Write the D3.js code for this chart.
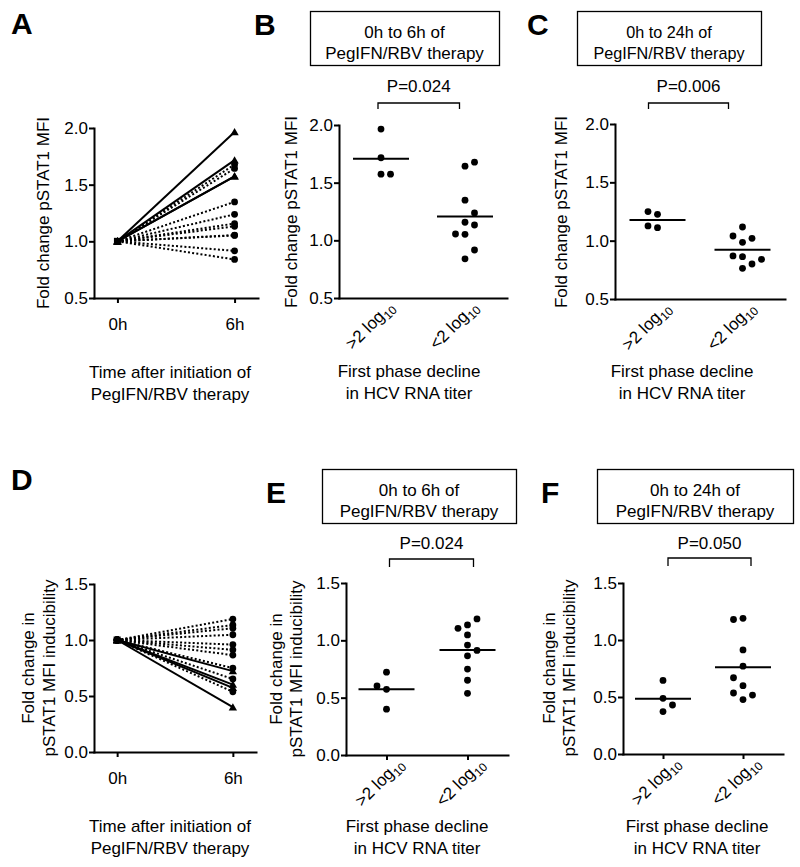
<!DOCTYPE html>
<html><head><meta charset="utf-8">
<script src="https://cdn.jsdelivr.net/npm/d3@7"></script>
<style>
html,body{margin:0;padding:0;background:#fff;}
svg{display:block;}
</style></head><body>
<script>
// ---------------- DATA ----------------
const timeLabels = ["0h", "6h"];
const groupLabels = [">2 log", "<2 log"];           // subscript "10" added when drawn
const pstatTicks = [0.5, 1.0, 1.5, 2.0];
const inducTicks = [0.0, 0.5, 1.0, 1.5];
const baseline0h = 1.0;
// fold change pSTAT1 MFI, 0h->6h (panels A, B)
const fold6hGt2 = [1.965, 1.716, 1.574, 1.574];
const fold6hLt2 = [1.643, 1.678, 1.348, 1.157, 1.238, 1.133, 1.052, 1.055, 0.84, 0.916];
// fold change pSTAT1 MFI, 0h->24h (panel C)
const fold24hGt2 = [1.226, 1.249, 1.111, 1.126];
const fold24hLt2 = [1.117, 0.986, 1.02, 1.04, 0.863, 0.80, 0.869, 0.763, 0.84];
// fold change in inducibility, 0h->6h (panels D, E)
const induc6hGt2 = [0.722, 0.573, 0.602, 0.40];
const induc6hLt2 = [1.134, 1.187, 1.105, 1.047, 0.959, 0.912, 0.865, 0.749, 0.652, 0.538];
// fold change in inducibility, 0h->24h (panel F)
const induc24hGt2 = [0.645, 0.488, 0.43, 0.372];
const induc24hLt2 = [1.19, 1.18, 0.913, 0.77, 0.599, 0.669, 0.477, 0.535, 0.517];
const pValues = ["P=0.024", "P=0.006", "P=0.024", "P=0.050"];
const boxTitles6 = ["0h to 6h of", "PegIFN/RBV therapy"];
const boxTitles24 = ["0h to 24h of", "PegIFN/RBV therapy"];
const yTitleTop = ["Fold change pSTAT1 MFI"];
const yTitleBottom = ["Fold change in", "pSTAT1 MFI inducibility"];
const xTitleTime = ["Time after initiation of", "PegIFN/RBV therapy"];
const xTitleGroup = ["First phase decline", "in HCV RNA titer"];
const panelLetters = ["A", "B", "C", "D", "E", "F"];

// ---------------- DRAWING ----------------
const FF = '"Liberation Sans", Arial, Helvetica, sans-serif';
const FS = 17;
const svg = d3.select("body").append("svg")
  .attr("width", 800).attr("height", 867)
  .style("font-family", FF).style("background", "#fff");
svg.append("rect").attr("width", 800).attr("height", 867).attr("fill", "#fff");

function styleAxis(ax) {
  ax.attr("font-family", FF).attr("font-size", FS);
  ax.select(".domain").attr("stroke", "#000").attr("stroke-width", 2).attr("stroke-linecap", "square");
  ax.selectAll(".tick line").attr("stroke", "#000").attr("stroke-width", 2);
  ax.selectAll(".tick text").attr("fill", "#000");
}

function yAxis(y, ticks, x) {
  const ax = svg.append("g").attr("transform", `translate(${x},0)`)
    .call(d3.axisLeft(y).tickValues(ticks).tickFormat(d3.format(".1f"))
      .tickSize(5).tickSizeOuter(0).tickPadding(1));
  styleAxis(ax);
}

function xAxis(x, yPos, tickSize, showLabels) {
  const ax = svg.append("g").attr("transform", `translate(0,${yPos})`)
    .call(d3.axisBottom(x).tickSize(tickSize).tickSizeOuter(0).tickPadding(15)
      .tickFormat(showLabels ? (d => d) : () => ""));
  styleAxis(ax);
  if (tickSize === 0) ax.selectAll(".tick line").remove();
}

function yTitle(lines, x, cy) {
  const t = svg.append("text").attr("transform", `translate(${x},${cy}) rotate(-90)`)
    .attr("text-anchor", "middle").attr("font-size", FS).attr("fill", "#000");
  lines.forEach((l, i) => t.append("tspan").attr("x", 0).attr("dy", i === 0 ? 0 : 20.5).text(l));
}

function xTitle(lines, cx, y) {
  const t = svg.append("text").attr("text-anchor", "middle").attr("font-size", FS).attr("fill", "#000");
  lines.forEach((l, i) => t.append("tspan").attr("x", cx).attr("y", y + i * 21.5).text(l));
}

function letter(s, x, y) {
  svg.append("text").attr("x", x).attr("y", y).attr("font-size", 30).attr("font-weight", "bold")
    .attr("fill", "#000").text(s);
}

function titleBox(lines, x, y, w, h, fs) {
  svg.append("rect").attr("x", x + 0.5).attr("y", y + 0.5).attr("width", w).attr("height", h)
    .attr("fill", "none").attr("stroke", "#000").attr("stroke-width", 1.3);
  const t = svg.append("text").attr("text-anchor", "middle").attr("font-size", fs).attr("fill", "#000");
  lines.forEach((l, i) => t.append("tspan").attr("x", x + w / 2).attr("y", y + 27 + i * 21).text(l));
}

function pBracket(p, x1, x2, yTop, leg, textY) {
  svg.append("path").attr("d", `M${x1},${yTop + leg}V${yTop}H${x2}V${yTop + leg}`)
    .attr("fill", "none").attr("stroke", "#000").attr("stroke-width", 1.3);
  svg.append("text").attr("x", (x1 + x2) / 2).attr("y", textY).attr("text-anchor", "middle")
    .attr("font-size", FS).attr("fill", "#000").text(p);
}

const triangle = d3.symbol().type(d3.symbolTriangle).size(30);

// Line panel (A, D)
function linePanel(cfg, solidVals, dottedVals) {
  const y = d3.scaleLinear().domain(cfg.domain).range([cfg.yBot, cfg.yTop]);
  const x = d3.scalePoint().domain(timeLabels).range([cfg.axisX, cfg.axisEnd]).padding(0.2);
  const line = d3.line().x(d => x(d[0])).y(d => y(d[1]));
  const pairs = v => [[timeLabels[0], baseline0h], [timeLabels[1], v]];
  const g = svg.append("g");
  g.selectAll(".dl").data(dottedVals).join("path").attr("d", v => line(pairs(v)))
    .attr("fill", "none").attr("stroke", "#000").attr("stroke-width", 2).attr("stroke-dasharray", "2,2.2");
  g.selectAll(".sl").data(solidVals).join("path").attr("d", v => line(pairs(v)))
    .attr("fill", "none").attr("stroke", "#000").attr("stroke-width", 2);
  g.selectAll(".dc").data(dottedVals).join("circle")
    .attr("cx", x(timeLabels[1])).attr("cy", v => y(v)).attr("r", 3.4).attr("fill", "#000");
  g.selectAll(".st").data(solidVals).join("path").attr("d", triangle)
    .attr("transform", v => `translate(${x(timeLabels[1])},${y(v) + 0.8})`).attr("fill", "#000");
  g.selectAll(".dc0").data(dottedVals).join("circle")
    .attr("cx", x(timeLabels[0])).attr("cy", y(baseline0h)).attr("r", 3.4).attr("fill", "#000");
  g.selectAll(".st0").data(solidVals).join("path").attr("d", triangle)
    .attr("transform", `translate(${x(timeLabels[0])},${y(baseline0h) + 0.8})`).attr("fill", "#000");
  g.append("rect").attr("x", x(timeLabels[0]) - 3.5).attr("y", y(baseline0h) - 3.5)
    .attr("width", 7).attr("height", 7).attr("fill", "#000");
  yAxis(y, cfg.ticks, cfg.axisX);
  xAxis(x, cfg.yBot, 5, true);
}

// simple swarm: place in data order, centre slot first, then preferred side
function swarm(vals, y, side) {
  const T = 9.7, placed = [];
  const order = [0, side, -side, 2 * side, -2 * side, 3 * side, -3 * side];
  return vals.map(v => {
    const py = y(v);
    for (const s of order) {
      if (!placed.some(p => p.s === s && Math.abs(p.py - py) < T)) {
        placed.push({ s, py });
        return { v, s };
      }
    }
    return { v, s: 0 };
  });
}

// Scatter panel (B, C, E, F)
function scatterPanel(cfg, groups) {
  const y = d3.scaleLinear().domain(cfg.domain).range([cfg.yBot, cfg.yTop]);
  const x = d3.scalePoint().domain(groupLabels).range([cfg.axisX, cfg.axisEnd]).padding(0.5);
  const slotW = 9.5, halfMean = 28;
  groups.forEach((vals, gi) => {
    const cx = x(groupLabels[gi]);
    const pts = swarm(vals, y, cfg.sides[gi]);
    svg.append("g").selectAll("circle").data(pts).join("circle")
      .attr("cx", d => cx + d.s * slotW).attr("cy", d => y(d.v)).attr("r", 3.4).attr("fill", "#000");
    const m = d3.mean(vals);
    svg.append("line").attr("x1", cx - halfMean).attr("x2", cx + halfMean)
      .attr("y1", y(m)).attr("y2", y(m)).attr("stroke", "#000").attr("stroke-width", 2);
  });
  yAxis(y, cfg.ticks, cfg.axisX);
  xAxis(x, cfg.yBot, cfg.xTicks ? 5 : 0, false);
  groupLabels.forEach(c => {
    const t = svg.append("text")
      .attr("transform", `translate(${x(c) + cfg.labDx},${cfg.yBot + cfg.labDy}) rotate(-45)`)
      .attr("text-anchor", "end").attr("font-size", FS).attr("fill", "#000");
    t.append("tspan").text(c);
    t.append("tspan").attr("dy", 4).attr("font-size", 12).text("10");
  });
  const b = cfg.bracket;
  pBracket(cfg.p, x(groupLabels[0]) + b.d1, x(groupLabels[1]) + b.d2, b.y, b.leg, b.ty);
  return x;
}

// ---- Panel A
linePanel({ domain: [0.5, 2.0], ticks: pstatTicks, axisX: 94, axisEnd: 258, yTop: 128, yBot: 298 },
  fold6hGt2, fold6hLt2);
yTitle(yTitleTop, 49, 213);
xTitle(xTitleTime, 170, 378);
letter(panelLetters[0], 11, 34);

// ---- Panel B
scatterPanel({ domain: [0.5, 2.0], ticks: pstatTicks, axisX: 339, axisEnd: 507, yTop: 125, yBot: 298,
  sides: [1, 1], xTicks: false, labDx: 14, labDy: 10, p: pValues[0],
  bracket: { d1: -3, d2: -5.5, y: 103, leg: 6, ty: 92 } }, [fold6hGt2, fold6hLt2]);
yTitle(yTitleTop, 297, 212);
xTitle(xTitleGroup, 409, 377);
letter(panelLetters[1], 254, 35);
titleBox(boxTitles6, 310, 11, 189, 54, FS);

// ---- Panel C
scatterPanel({ domain: [0.5, 2.0], ticks: pstatTicks, axisX: 615, axisEnd: 785, yTop: 124, yBot: 299,
  sides: [-1, 1], xTicks: false, labDx: 14, labDy: 10, p: pValues[1],
  bracket: { d1: -9, d2: -14, y: 103, leg: 6, ty: 92 } }, [fold24hGt2, fold24hLt2]);
yTitle(yTitleTop, 567, 212);
xTitle(xTitleGroup, 682, 377);
letter(panelLetters[2], 527, 35);
titleBox(boxTitles24, 577, 11, 184, 54, 16.2);

// ---- Panel D
linePanel({ domain: [0.0, 1.5], ticks: inducTicks, axisX: 94, axisEnd: 256, yTop: 584, yBot: 752 },
  induc6hGt2, induc6hLt2);
yTitle(yTitleBottom, 34, 668);
xTitle(xTitleTime, 170, 832);
letter(panelLetters[3], 11, 490);

// ---- Panel E
scatterPanel({ domain: [0.0, 1.5], ticks: inducTicks, axisX: 346, axisEnd: 508, yTop: 583, yBot: 755,
  sides: [-1, 1], xTicks: true, labDx: 18, labDy: 10, p: pValues[2],
  bracket: { d1: 3, d2: 6, y: 559, leg: 8, ty: 549 } }, [induc6hGt2, induc6hLt2]);
yTitle(yTitleBottom, 281.5, 669);
xTitle(xTitleGroup, 417, 832);
letter(panelLetters[4], 266, 503);
titleBox(boxTitles6, 322, 469, 194, 54, FS);

// ---- Panel F
scatterPanel({ domain: [0.0, 1.5], ticks: inducTicks, axisX: 623, axisEnd: 783, yTop: 583, yBot: 754,
  sides: [1, -1], xTicks: true, labDx: 18, labDy: 10, p: pValues[3],
  bracket: { d1: 5, d2: 8, y: 558, leg: 8, ty: 549 } }, [induc24hGt2, induc24hLt2]);
yTitle(yTitleBottom, 554.5, 668);
xTitle(xTitleGroup, 697, 832);
letter(panelLetters[5], 541, 503);
titleBox(boxTitles24, 597, 469, 196, 54, FS);
</script>
</body></html>
